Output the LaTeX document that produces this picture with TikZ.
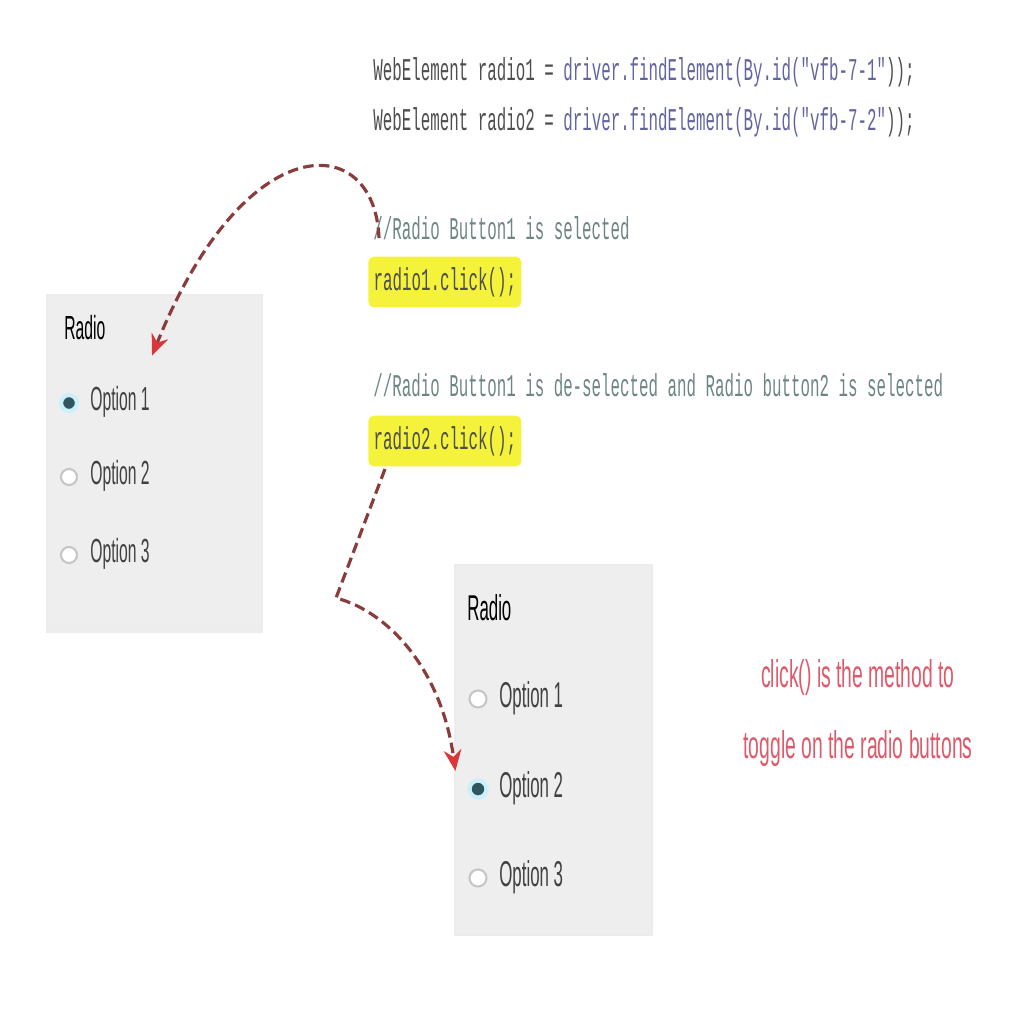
\documentclass[tikz,border=0pt]{standalone}
\usepackage{fontspec}
\newfontfamily\codefont{Liberation Mono}
\newfontfamily\uifont{Liberation Sans}
\usetikzlibrary{arrows.meta,calc,positioning}
\definecolor{codegray}{HTML}{4E4E4E}
\definecolor{codeblue}{HTML}{6264A0}
\definecolor{cmtgray}{HTML}{6F8585}
\definecolor{hiyellow}{HTML}{F4F23A}
\definecolor{panelgray}{HTML}{EEEEEE}
\definecolor{arrowbrown}{HTML}{8A3C3C}
\definecolor{tipred}{HTML}{D8383A}
\definecolor{notered}{HTML}{DE5A6A}
\definecolor{radioteal}{HTML}{2F5560}

\begin{document}
\begin{tikzpicture}[x=0.01cm,y=-0.01cm,
    codeline/.style={anchor=west,inner sep=0pt,xscale=0.5,text=codegray,
      font=\codefont\fontsize{9}{10}\selectfont},
    hilite/.style={codeline,fill=hiyellow,inner xsep=3pt,inner ysep=3pt,rounded corners=1.5pt},
    panelbox/.style={fill=panelgray,draw=gray!15},
    opttext/.style={anchor=west,inner sep=0pt,xscale=0.47,text=black!75,
      font=\uifont\fontsize{9.5}{10}\selectfont},
    radiooff/.style={circle,draw=gray!45,fill=white,minimum size=0.16cm,inner sep=0pt,line width=0.6pt},
    radioon/.style={circle,draw=cyan!20,fill=radioteal,minimum size=0.16cm,inner sep=0pt,line width=1.2pt},
    jump/.style={arrowbrown,line width=0.9pt,dash pattern=on 3pt off 1.5pt,-{Stealth[tipred,length=6pt,width=5pt]}}]
  \useasboundingbox (0,0) rectangle (1024,1024);

  % code
  \node[codeline] (decl1) at (373,72) {WebElement radio1 = \textcolor{codeblue}{driver.findElement(By.id("vfb-7-1"}));};
  \node[codeline] (decl2) at (373,122) {WebElement radio2 = \textcolor{codeblue}{driver.findElement(By.id("vfb-7-2"}));};
  \node[codeline,text=cmtgray] (cmt1) at (373,228) {//Radio Button1 is selected};
  \node[hilite] (click1) at (368,282) {radio1.click();};
  \node[codeline,text=cmtgray] (cmt2) at (373,385) {//Radio Button1 is de-selected and Radio button2 is selected};
  \node[hilite] (click2) at (368,441) {radio2.click();};

  % left panel
  \draw[panelbox] (47,295) rectangle (262,632);
  \node[opttext,text=black] (radioL) at (64,328) {Radio};
  \node[radioon] (r1L) at (69,403) {};
  \node[opttext] (o1L) at (90,402) {Option 1};
  \node[radiooff] (r2L) at (69,477) {};
  \node[opttext] (o2L) at (90,476) {Option 2};
  \node[radiooff] (r3L) at (69,555) {};
  \node[opttext] (o3L) at (90,554) {Option 3};

  % right panel
  \draw[panelbox] (455,565) rectangle (652,935);
  \node[opttext,text=black,font=\uifont\fontsize{10.2}{10}\selectfont] (radioR) at (467,608) {Radio};
  \node[radiooff,minimum size=0.17cm] (r1R) at (478,699) {};
  \node[opttext,font=\uifont\fontsize{10.2}{10}\selectfont] (o1R) at (499,698) {Option 1};
  \node[radioon,minimum size=0.17cm] (r2R) at (478,789) {};
  \node[opttext,font=\uifont\fontsize{10.2}{10}\selectfont] (o2R) at (499,788) {Option 2};
  \node[radiooff,minimum size=0.17cm] (r3R) at (478,878) {};
  \node[opttext,font=\uifont\fontsize{10.2}{10}\selectfont] (o3R) at (499,877) {Option 3};

  % note
  \node[align=center,text=notered,xscale=0.5,inner sep=0pt,
    font=\uifont\fontsize{11}{20}\selectfont] (note) at (858,713)
    {click() is the method to\\toggle on the radio buttons};

  % arrows
  \coordinate (tip1) at ($(o1L.north east)+(2,-30)$);
  \draw[jump] ($(cmt1.west)+(6,10)$) .. controls (375,130) and (245,125) .. (tip1);
  \coordinate (bend2) at (336,598);
  \draw[jump] ($(click2.south west)+(17,2)$) -- (bend2)
    .. controls (390,612) and (442,672) .. ($(r2R.west)+(-12,-18)$);
\end{tikzpicture}
\end{document}
